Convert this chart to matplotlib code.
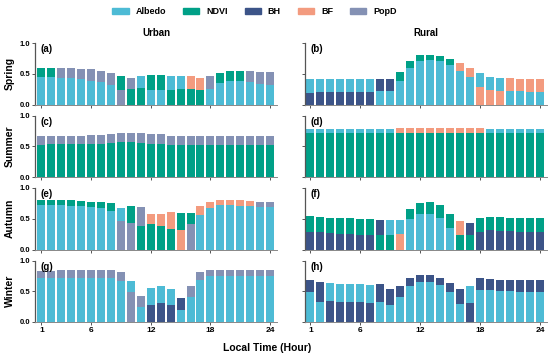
import numpy as np
import matplotlib.pyplot as plt
from matplotlib.patches import Patch

plt.rcParams['font.family'] = ['Liberation Sans', 'DejaVu Sans']
plt.rcParams['font.weight'] = 'bold'

hours = np.arange(1, 25)
names = {'A': 'Albedo', 'N': 'NDVI', 'H': 'BH', 'F': 'BF', 'P': 'PopD'}
colors = {'A': '#4DBBD5', 'N': '#00A087', 'H': '#3C5488', 'F': '#F39B7F', 'P': '#8491B4'}

# each panel: bottom factor (code per hour), bottom height, top factor, total height
urban_spring_low_var = "AAAAAAAAPNNAANNNNAAAAAAA"
urban_spring_top_var = "NNPPPPPPNPANNAAFFPNNNPPP"
urban_spring_low = [0.45, 0.45, 0.43, 0.43, 0.42, 0.38, 0.37, 0.31, 0.23, 0.26, 0.27, 0.24,
                    0.24, 0.24, 0.26, 0.26, 0.23, 0.26, 0.35, 0.39, 0.39, 0.37, 0.33, 0.32]
urban_spring_total = [0.60, 0.60, 0.59, 0.59, 0.58, 0.57, 0.55, 0.52, 0.46, 0.43, 0.46, 0.48,
                      0.48, 0.47, 0.46, 0.47, 0.43, 0.46, 0.52, 0.55, 0.55, 0.54, 0.53, 0.53]

rural_spring_low_var = "HHHHHHHAAAAAAAAAAFFFAAAA"
rural_spring_top_var = "AAAAAAAHHNNNNNNFFAAAFFFF"
rural_spring_low = [0.19, 0.21, 0.21, 0.21, 0.21, 0.21, 0.21, 0.22, 0.22, 0.38, 0.60, 0.71,
                    0.72, 0.70, 0.65, 0.54, 0.44, 0.28, 0.24, 0.22, 0.22, 0.22, 0.20, 0.20]
rural_spring_total = [0.41, 0.42, 0.42, 0.42, 0.42, 0.42, 0.42, 0.42, 0.42, 0.53, 0.71, 0.80,
                      0.81, 0.79, 0.74, 0.67, 0.60, 0.51, 0.45, 0.43, 0.43, 0.42, 0.41, 0.41]

urban_summer_low_var = "NNNNNNNNNNNNNNNNNNNNNNNN"
urban_summer_top_var = "PPPPPPPPPPPPPPPPPPPPPPPP"
urban_summer_low = [0.52, 0.53, 0.53, 0.53, 0.53, 0.53, 0.54, 0.55, 0.57, 0.57, 0.56, 0.54,
                    0.54, 0.52, 0.52, 0.52, 0.52, 0.52, 0.52, 0.52, 0.52, 0.52, 0.52, 0.52]
urban_summer_total = [0.66, 0.67, 0.67, 0.67, 0.67, 0.68, 0.69, 0.70, 0.71, 0.72, 0.71, 0.70,
                      0.70, 0.67, 0.67, 0.67, 0.67, 0.67, 0.67, 0.67, 0.67, 0.67, 0.67, 0.67]

rural_summer_low_var = "NNNNNNNNNNNNNNNNNNNNNNNN"
rural_summer_top_var = "AAAAAAAAAFFFFFFFFFAAAAAA"
rural_summer_low = [0.71, 0.71, 0.71, 0.71, 0.71, 0.71, 0.71, 0.71, 0.71, 0.72, 0.72, 0.72,
                    0.72, 0.72, 0.72, 0.72, 0.71, 0.71, 0.71, 0.71, 0.71, 0.71, 0.71, 0.71]
rural_summer_total = [0.78, 0.78, 0.78, 0.78, 0.78, 0.78, 0.78, 0.78, 0.78, 0.79, 0.80, 0.80,
                      0.80, 0.80, 0.79, 0.79, 0.79, 0.79, 0.78, 0.78, 0.78, 0.78, 0.78, 0.78]

urban_autumn_low_var = "AAAAAAAAPPNNNNFPAAAAAAAA"
urban_autumn_top_var = "NNNNNNNNANPFFFNNFFFFFFPP"
urban_autumn_low = [0.73, 0.73, 0.72, 0.71, 0.70, 0.69, 0.68, 0.63, 0.47, 0.43, 0.39, 0.42,
                    0.38, 0.34, 0.32, 0.42, 0.56, 0.67, 0.72, 0.72, 0.71, 0.70, 0.69, 0.69]
urban_autumn_total = [0.81, 0.81, 0.80, 0.80, 0.79, 0.78, 0.77, 0.75, 0.67, 0.71, 0.69, 0.58,
                      0.58, 0.61, 0.59, 0.59, 0.70, 0.78, 0.81, 0.81, 0.80, 0.79, 0.78, 0.78]

rural_autumn_low_var = "HHHHHHHNNFAAAAANNHHHHHHH"
rural_autumn_top_var = "NNNNNNNHAANNNNNFHNNNNNNN"
rural_autumn_low = [0.29, 0.28, 0.27, 0.26, 0.25, 0.24, 0.24, 0.24, 0.24, 0.25, 0.49, 0.57,
                    0.57, 0.51, 0.35, 0.23, 0.23, 0.28, 0.31, 0.30, 0.30, 0.29, 0.28, 0.28]
rural_autumn_total = [0.54, 0.53, 0.52, 0.51, 0.51, 0.50, 0.49, 0.48, 0.48, 0.48, 0.66, 0.75,
                      0.78, 0.73, 0.57, 0.47, 0.43, 0.52, 0.53, 0.53, 0.52, 0.52, 0.51, 0.51]

urban_winter_low_var = "AAAAAAAAAPAHHHAAAAAAAAAA"
urban_winter_top_var = "PPPPPPPPPAPAAAHPPPPPPPPP"
urban_winter_low = [0.72, 0.72, 0.72, 0.72, 0.72, 0.72, 0.72, 0.72, 0.66, 0.48, 0.25, 0.28,
                    0.31, 0.28, 0.20, 0.41, 0.68, 0.74, 0.74, 0.74, 0.74, 0.74, 0.74, 0.74]
urban_winter_total = [0.83, 0.83, 0.84, 0.84, 0.84, 0.84, 0.84, 0.84, 0.81, 0.67, 0.43, 0.56,
                      0.59, 0.53, 0.39, 0.59, 0.81, 0.85, 0.85, 0.85, 0.85, 0.85, 0.85, 0.85]

rural_winter_low_var = "AAHHHHHAAAAAAAAAHAAAAAAA"
rural_winter_top_var = "HHAAAAAHHHHHHHHHAHHHHHHH"
rural_winter_low = [0.48, 0.33, 0.34, 0.32, 0.33, 0.33, 0.31, 0.33, 0.27, 0.41, 0.59, 0.65,
                    0.65, 0.60, 0.48, 0.30, 0.31, 0.52, 0.52, 0.51, 0.50, 0.49, 0.49, 0.49]
rural_winter_total = [0.68, 0.65, 0.63, 0.62, 0.62, 0.62, 0.60, 0.61, 0.53, 0.59, 0.71, 0.76,
                      0.76, 0.72, 0.64, 0.54, 0.59, 0.71, 0.70, 0.69, 0.69, 0.68, 0.68, 0.68]

seasons = ['Spring', 'Summer', 'Autumn', 'Winter']
panels = [
    [(urban_spring_low_var, urban_spring_low, urban_spring_top_var, urban_spring_total),
     (rural_spring_low_var, rural_spring_low, rural_spring_top_var, rural_spring_total)],
    [(urban_summer_low_var, urban_summer_low, urban_summer_top_var, urban_summer_total),
     (rural_summer_low_var, rural_summer_low, rural_summer_top_var, rural_summer_total)],
    [(urban_autumn_low_var, urban_autumn_low, urban_autumn_top_var, urban_autumn_total),
     (rural_autumn_low_var, rural_autumn_low, rural_autumn_top_var, rural_autumn_total)],
    [(urban_winter_low_var, urban_winter_low, urban_winter_top_var, urban_winter_total),
     (rural_winter_low_var, rural_winter_low, rural_winter_top_var, rural_winter_total)],
]
letters = ['a', 'b', 'c', 'd', 'e', 'f', 'g', 'h']

W, H = 550, 357
fig = plt.figure(figsize=(5.5, 3.57), dpi=100)

col_x = [(35, 277), (305, 547)]
row_top = [43, 115.5, 188, 260.5]
ax_h = 61.5
width = 0.8
spine_c = '#555555'

for r in range(4):
    for c in range(2):
        x0, x1 = col_x[c]
        ax = fig.add_axes([x0 / W, 1 - (row_top[r] + ax_h) / H, (x1 - x0) / W, ax_h / H])
        low_var, low, top_var, total = panels[r][c]
        low = np.array(low)
        total = np.array(total)
        for code in 'ANHFP':
            m = np.array([v == code for v in low_var])
            if m.any():
                ax.bar(hours[m], low[m], width, color=colors[code], linewidth=0)
            m = np.array([v == code for v in top_var])
            if m.any():
                ax.bar(hours[m], total[m] - low[m], width, bottom=low[m],
                       color=colors[code], linewidth=0)
        ax.set_ylim(0, 1.0)
        ax.set_xlim(0.35 if c == 0 else 0.45, 24.7)
        ax.set_xticks([1, 6, 12, 18, 24])
        ax.set_yticks([0, 0.5, 1.0])
        for s in ['top', 'right']:
            ax.spines[s].set_visible(False)
        ax.spines['left'].set_color(spine_c)
        ax.spines['bottom'].set_color('#888888')
        ax.spines['left'].set_linewidth(0.9)
        ax.spines['bottom'].set_linewidth(0.7)
        ax.tick_params(length=2, width=0.7, color=spine_c, pad=1.5)
        if c == 0:
            ax.set_yticklabels(['0.0', '0.5', '1.0'], fontsize=5.5, fontweight='bold')
        else:
            ax.set_yticklabels([])
        if r == 3:
            ax.set_xticklabels(['1', '6', '12', '18', '24'], fontsize=6, fontweight='bold')
        else:
            ax.set_xticklabels([])
        ax.text(0.022, 0.9, '(%s)' % letters[r * 2 + c], transform=ax.transAxes,
                fontsize=7, fontweight='bold', ha='left', va='center')
    fig.text(10 / W, 1 - (row_top[r] + ax_h / 2) / H, seasons[r], rotation=90,
             fontsize=7.5, fontweight='bold', ha='center', va='center')

fig.text(156 / W, 1 - 33.5 / H, 'Urban', fontsize=7, fontweight='bold', ha='center', va='center')
fig.text(426 / W, 1 - 33.5 / H, 'Rural', fontsize=7, fontweight='bold', ha='center', va='center')
fig.text(267 / W, 1 - 348 / H, 'Local Time (Hour)', fontsize=7.5, fontweight='bold',
         ha='center', va='center')

handles = [Patch(color=colors[k], label=names[k]) for k in 'ANHFP']
fig.legend(handles=handles, loc='center', bbox_to_anchor=(254.5 / W, 1 - 11.5 / H), ncol=5,
           frameon=False, prop={'size': 6.5, 'weight': 'bold'}, handlelength=1.8,
           handleheight=0.65, handletextpad=0.75, columnspacing=1.9)

fig.savefig('out.png', dpi=100)
